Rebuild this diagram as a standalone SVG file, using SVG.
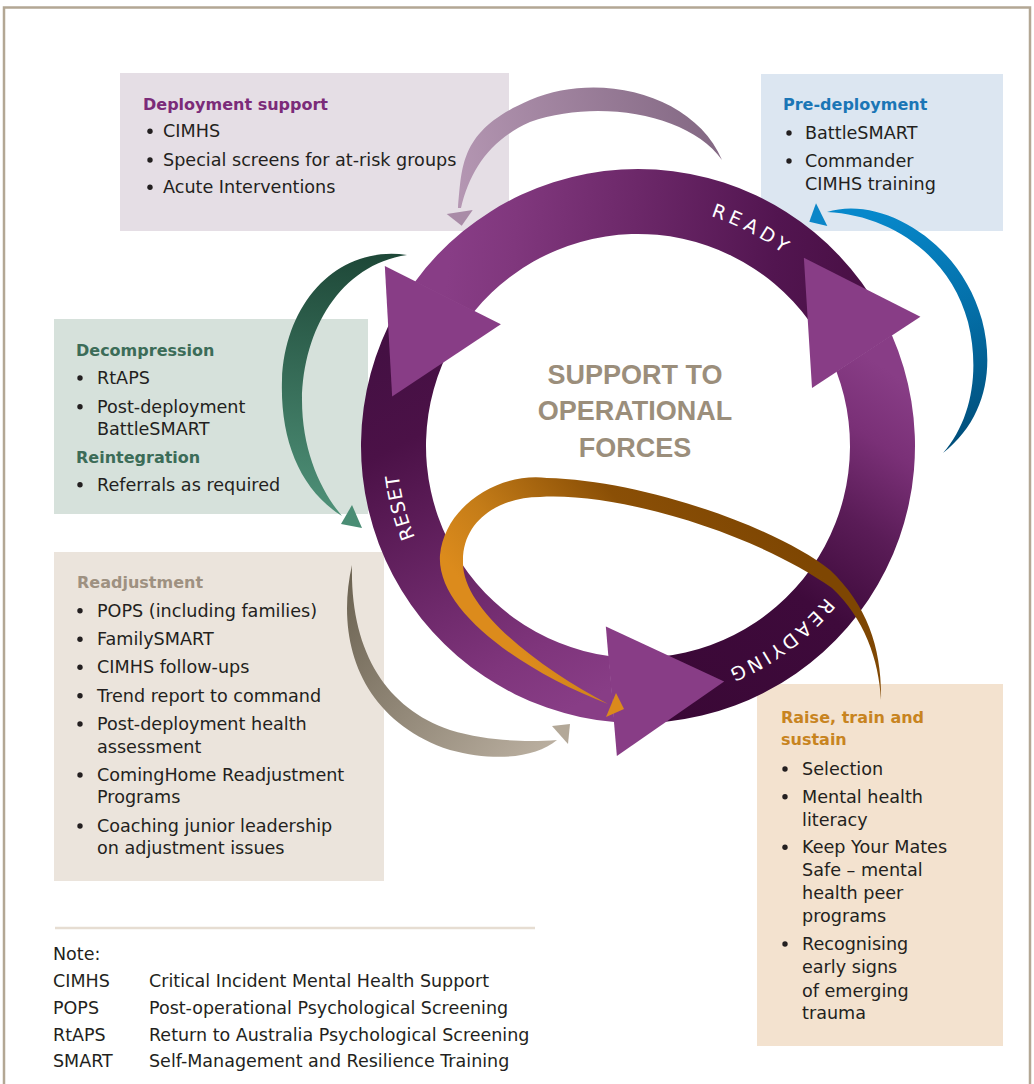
<svg xmlns="http://www.w3.org/2000/svg" width="1034" height="1084" viewBox="0 0 1034 1084">
<style>
.t{font-family:"DejaVu Sans",sans-serif;font-size:17.6px;fill:#231f20}
.h{font-family:"DejaVu Sans",sans-serif;font-size:16px;font-weight:bold}
.n{font-family:"DejaVu Sans",sans-serif;font-size:17.5px;fill:#231f20}
.b{fill:#231f20}
.lbl{font-family:"DejaVu Sans",sans-serif;font-size:19px;fill:#ffffff}
.ctr{font-family:"Liberation Sans",Arial,sans-serif;font-size:27px;font-weight:bold;fill:#9b8e7b;text-anchor:middle}
.head{fill:#883d86}
</style>
<defs>
<linearGradient id="gA" gradientUnits="userSpaceOnUse" x1="634" y1="690" x2="864" y2="354">
<stop offset="0" stop-color="#3a0836"/><stop offset="0.42" stop-color="#3e0a3b"/><stop offset="0.65" stop-color="#5a1c57"/><stop offset="0.84" stop-color="#7a3077"/><stop offset="1" stop-color="#883d86"/>
</linearGradient>
<linearGradient id="gB" gradientUnits="userSpaceOnUse" x1="634" y1="690" x2="864" y2="354">
<stop offset="0" stop-color="#4a1046"/><stop offset="0.2" stop-color="#521550"/><stop offset="0.55" stop-color="#6c2869"/><stop offset="0.84" stop-color="#80377d"/><stop offset="1" stop-color="#883d86"/>
</linearGradient>
<linearGradient id="gC" gradientUnits="userSpaceOnUse" x1="634" y1="690" x2="864" y2="354">
<stop offset="0" stop-color="#441043"/><stop offset="0.23" stop-color="#4b1147"/><stop offset="0.4" stop-color="#5a1b56"/><stop offset="0.64" stop-color="#6f2a6c"/><stop offset="0.83" stop-color="#7f357c"/><stop offset="1" stop-color="#883d86"/>
</linearGradient>
<linearGradient id="gMauve" gradientUnits="userSpaceOnUse" x1="722" y1="160" x2="458" y2="208">
<stop offset="0" stop-color="#836883"/><stop offset="1" stop-color="#b597b3"/>
</linearGradient>
<linearGradient id="gBlue" gradientUnits="userSpaceOnUse" x1="870" y1="215" x2="960" y2="445">
<stop offset="0" stop-color="#0788cb"/><stop offset="0.5" stop-color="#046fa8"/><stop offset="1" stop-color="#004e7a"/>
</linearGradient>
<linearGradient id="gGreen" gradientUnits="userSpaceOnUse" x1="360" y1="255" x2="330" y2="515">
<stop offset="0" stop-color="#1e4838"/><stop offset="1" stop-color="#4f9178"/>
</linearGradient>
<linearGradient id="gTaupe" gradientUnits="userSpaceOnUse" x1="352" y1="568" x2="557" y2="745">
<stop offset="0" stop-color="#6b6251"/><stop offset="1" stop-color="#bbb0a1"/>
</linearGradient>
<linearGradient id="gOrange" gradientUnits="userSpaceOnUse" x1="760" y1="500" x2="520" y2="700">
<stop offset="0" stop-color="#7e4602"/><stop offset="0.35" stop-color="#8a4f06"/><stop offset="0.7" stop-color="#c47c18"/><stop offset="0.9" stop-color="#dc8b1c"/>
</linearGradient>
<path id="ringText" d="M879,446 A241,241 0 1 1 397,446 A241,241 0 1 1 879,446"/>
<path id="bodyA" d="M633.17,722.96 A277,277 0 0 0 891.83,335.10 L836.44,371.41 A212,212 0 0 1 634.30,657.97 Z"/>
<path id="headA" d="M920.41,316.70 L803.86,257.87 L812.02,388.11 Z"/>
</defs>

<path id="frame" d="M4,1084 V7.5 H1030 V1084" fill="none" stroke="#b3a794" stroke-width="2.5"/>

<g id="deployment-support">
<rect x="120" y="73" width="389" height="158" fill="#e5dee5"/>
<text class="h" x="143" y="110" fill="#7b2b79">Deployment support</text>
<circle class="b" cx="150" cy="131.3" r="2.7"/><text class="t" x="163" y="137.3">CIMHS</text>
<circle class="b" cx="150" cy="160" r="2.7"/><text class="t" x="163" y="166">Special screens for at-risk groups</text>
<circle class="b" cx="150" cy="187.3" r="2.7"/><text class="t" x="163" y="193.3">Acute Interventions</text>
</g>

<g id="pre-deployment">
<rect x="761" y="74" width="242" height="157" fill="#dce6f1"/>
<text class="h" x="783" y="110" fill="#1b76b6">Pre-deployment</text>
<circle class="b" cx="789" cy="133" r="2.7"/><text class="t" x="805" y="139">BattleSMART</text>
<circle class="b" cx="789" cy="161" r="2.7"/><text class="t" x="805" y="167">Commander</text>
<text class="t" x="805" y="190">CIMHS training</text>
</g>

<g id="decompression">
<rect x="54" y="319" width="314" height="195" fill="#d6e1db"/>
<text class="h" x="76" y="356" fill="#3c6c58">Decompression</text>
<circle class="b" cx="80" cy="378" r="2.7"/><text class="t" x="97" y="384">RtAPS</text>
<circle class="b" cx="80" cy="406.7" r="2.7"/><text class="t" x="97" y="412.7">Post-deployment</text>
<text class="t" x="97" y="435">BattleSMART</text>
<text class="h" x="76" y="463.3" fill="#3c6c58">Reintegration</text>
<circle class="b" cx="80" cy="484.7" r="2.7"/><text class="t" x="97" y="490.7">Referrals as required</text>
</g>

<g id="readjustment">
<rect x="54" y="552" width="330" height="329" fill="#ebe4dc"/>
<text class="h" x="77" y="588" fill="#9e9181">Readjustment</text>
<circle class="b" cx="80" cy="610.7" r="2.7"/><text class="t" x="97" y="616.7">POPS (including families)</text>
<circle class="b" cx="80" cy="639.3" r="2.7"/><text class="t" x="97" y="645.3">FamilySMART</text>
<circle class="b" cx="80" cy="667.3" r="2.7"/><text class="t" x="97" y="673.3">CIMHS follow-ups</text>
<circle class="b" cx="80" cy="695.7" r="2.7"/><text class="t" x="97" y="701.7">Trend report to command</text>
<circle class="b" cx="80" cy="724" r="2.7"/><text class="t" x="97" y="730">Post-deployment health</text>
<text class="t" x="97" y="752.7">assessment</text>
<circle class="b" cx="80" cy="775" r="2.7"/><text class="t" x="97" y="781">ComingHome Readjustment</text>
<text class="t" x="97" y="803.3">Programs</text>
<circle class="b" cx="80" cy="826" r="2.7"/><text class="t" x="97" y="832">Coaching junior leadership</text>
<text class="t" x="97" y="854.3">on adjustment issues</text>
</g>

<g id="raise-train-sustain">
<rect x="757" y="684" width="246" height="362" fill="#f3e2cf"/>
<text class="h" x="781" y="722.7" fill="#c8841f">Raise, train and</text>
<text class="h" x="781" y="745" fill="#c8841f">sustain</text>
<circle class="b" cx="785" cy="769" r="2.7"/><text class="t" x="802" y="775">Selection</text>
<circle class="b" cx="785" cy="796.7" r="2.7"/><text class="t" x="802" y="802.7">Mental health</text>
<text class="t" x="802" y="825.7">literacy</text>
<circle class="b" cx="785" cy="847.3" r="2.7"/><text class="t" x="802" y="853.3">Keep Your Mates</text>
<text class="t" x="802" y="876">Safe – mental</text>
<text class="t" x="802" y="899.3">health peer</text>
<text class="t" x="802" y="921.7">programs</text>
<circle class="b" cx="785" cy="944" r="2.7"/><text class="t" x="802" y="950">Recognising</text>
<text class="t" x="802" y="973.3">early signs</text>
<text class="t" x="802" y="996.7">of emerging</text>
<text class="t" x="802" y="1019.3">trauma</text>
</g>

<g id="cycle">
<use href="#bodyA" fill="url(#gA)"/>
<g transform="rotate(-120 638 446)"><use href="#bodyA" fill="url(#gB)"/></g>
<g transform="rotate(118.5 638 446)"><use href="#bodyA" fill="url(#gC)"/></g>
<use href="#headA" class="head"/>
<g transform="rotate(-120 638 446)"><use href="#headA" class="head"/></g>
<g transform="rotate(118.5 638 446)"><use href="#headA" class="head"/></g>
</g>

<g id="center-title">
<text class="ctr" x="635" y="384">SUPPORT TO</text>
<text class="ctr" x="635" y="420">OPERATIONAL</text>
<text class="ctr" x="635" y="456.6">FORCES</text>
</g>

<g id="connectors">
<g id="arrow-deployment">
<path d="M722,160 C695,95 600,70 530,100 S462,165 458,208 L461,208 C470,170 490,140 530,122 C600,98 690,115 722,160 Z" fill="url(#gMauve)"/>
<path d="M446.7,214 L472.7,210 L461.7,225.7 Z" fill="#a98ba7"/>
</g>
<g id="arrow-predeployment">
<path d="M827,212 C880,195 960,240 982,320 C995,370 985,420 943,453 C972,420 980,370 968,322 C950,255 890,215 827,212 Z" fill="url(#gBlue)"/>
<path d="M816,203.3 L809.3,221.7 L827.3,226 Z" fill="#0c86c8"/>
</g>
<g id="arrow-decompression">
<path d="M407,255 C340,245 285,300 282,380 C280,440 300,490 342,516 C320,490 302,450 302,400 C303,330 340,265 407,255 Z" fill="url(#gGreen)"/>
<path d="M352,505 L362,528 L341,524 Z" fill="#4a8d74"/>
</g>
<g id="arrow-readjustment">
<path d="M352,565 C335,640 360,720 450,750 C495,762 535,758 557,740 C530,742 490,742 450,730 C385,708 350,650 352,565 Z" fill="url(#gTaupe)"/>
<path d="M552,726 L570,724 L568,744 Z" fill="#b3a898"/>
</g>
<g id="arrow-raise">
<path d="M881,700 C882,650 868,606 830,570 C775,526 640,480 547,478 C500,472 445,505 440,555 C436,610 520,670 608,704 C540,668 462,610 463,562 C462,520 500,497 540,497 C620,492 756,534 832,588 C864,618 879,660 881,700 Z" fill="url(#gOrange)"/>
<path d="M606,717 L616,693 L624,709 Z" fill="#db8a1b"/>
</g>
</g>

<g id="ring-labels">
<text class="lbl" letter-spacing="4.5"><textPath href="#ringText" startOffset="1252" text-anchor="middle">READY</textPath></text>
<text class="lbl" letter-spacing="3.4"><textPath href="#ringText" startOffset="226" text-anchor="middle">READYING</textPath></text>
<text class="lbl" letter-spacing="1"><textPath href="#ringText" startOffset="696" text-anchor="middle">RESET</textPath></text>
</g>

<g id="notes">
<line x1="55" y1="928" x2="535" y2="928" stroke="#e6ddd2" stroke-width="2.5"/>
<text class="n" x="53" y="960">Note:</text>
<text class="n" x="53" y="987.3">CIMHS</text><text class="n" x="149" y="987.3">Critical Incident Mental Health Support</text>
<text class="n" x="53" y="1014.3">POPS</text><text class="n" x="149" y="1014.3">Post-operational Psychological Screening</text>
<text class="n" x="53" y="1041">RtAPS</text><text class="n" x="149" y="1041">Return to Australia Psychological Screening</text>
<text class="n" x="53" y="1066.7">SMART</text><text class="n" x="149" y="1066.7">Self-Management and Resilience Training</text>
</g>
</svg>
